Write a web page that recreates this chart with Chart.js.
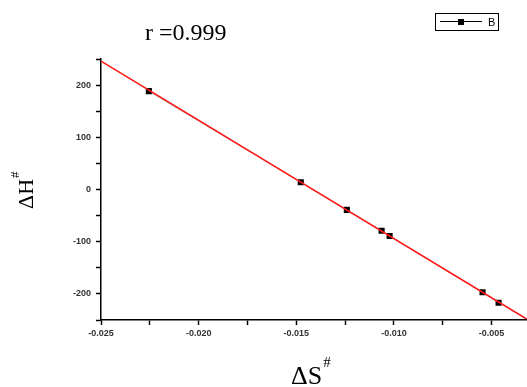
<!DOCTYPE html>
<html>
<head>
<meta charset="utf-8">
<script src="https://cdn.jsdelivr.net/npm/chart.js@4"></script>
<style>
  html, body { margin: 0; padding: 0; background: #fff; overflow: hidden; }
  #wrap { width: 527px; height: 387px; overflow: hidden; }
</style>
</head>
<body>
<div id="wrap"><canvas id="fitChart" width="531" height="387"></canvas></div>
<script>
// data
const dS = [-0.02255, -0.01477, -0.01241, -0.01063, -0.01022, -0.00546, -0.00464];
const dH = [188.5, 14, -39, -79, -89, -197, -217];
const fitX = [-0.025, -0.0032];
const fitY = [246, -248];
const rText = 'r =0.999';
const seriesName = 'B';

const ctx = document.getElementById('fitChart').getContext('2d');

function sup(c, base, supText, x, y, bigFont, smallFont, rise) {
  c.font = bigFont;
  c.fillText(base, x, y);
  const w = c.measureText(base).width;
  c.font = smallFont;
  c.fillText(supText, x + w + 1, y - rise);
}

const annotations = {
  id: 'annotations',
  afterDraw(chart) {
    const c = chart.ctx;
    c.save();
    c.fillStyle = '#000';
    c.textBaseline = 'alphabetic';
    c.textAlign = 'left';

    // correlation text
    c.font = '24px "Liberation Serif", "Times New Roman", serif';
    c.fillText(rText, 145, 40);

    // x axis title
    sup(c, 'ΔS', '#', 291, 384, '26px "Liberation Serif", serif', '15px "Liberation Serif", serif', 17);

    // y axis title (rotated)
    c.translate(33, 209);
    c.rotate(-Math.PI / 2);
    sup(c, 'ΔH', '#', 0, 0, '22px "Liberation Serif", serif', '13px "Liberation Serif", serif', 14);
    c.setTransform(1, 0, 0, 1, 0, 0);

    // legend box
    c.strokeStyle = '#000';
    c.lineWidth = 1;
    c.strokeRect(435.5, 13.5, 63, 17);
    c.beginPath();
    c.moveTo(440, 21.5);
    c.lineTo(482, 21.5);
    c.stroke();
    c.fillRect(458, 19, 6, 6);
    c.font = '11px "Liberation Sans", Arial, sans-serif';
    c.fillText(seriesName, 488, 26);
    c.restore();
  }
};

const isMajor = (v, step) => Math.abs(v / step - Math.round(v / step)) < 1e-6;

new Chart(ctx, {
  type: 'scatter',
  data: {
    datasets: [
      {
        label: 'fit',
        data: fitX.map((x, i) => ({ x: x, y: fitY[i] })),
        showLine: true,
        borderColor: '#ff1a1a',
        borderWidth: 1.6,
        pointRadius: 0,
        order: 1
      },
      {
        label: seriesName,
        data: dS.map((x, i) => ({ x: x, y: dH[i] })),
        showLine: true,
        borderColor: 'rgba(0,0,0,0.6)',
        borderWidth: 0.7,
        backgroundColor: '#000',
        pointStyle: 'rect',
        pointRadius: 4.3,
        pointBorderWidth: 0,
        order: 2
      }
    ]
  },
  options: {
    responsive: false,
    animation: false,
    layout: { padding: { left: 56, top: 59, right: 1, bottom: 37 } },
    plugins: {
      legend: { display: false },
      title: { display: false },
      tooltip: { enabled: false }
    },
    scales: {
      x: {
        type: 'linear',
        min: -0.025,
        max: -0.0032,
        afterFit: s => { s.height = 30; },
        afterBuildTicks: s => { s.ticks = s.ticks.filter(t => isMajor(t.value, 0.0025)); },
        ticks: {
          stepSize: 0.0025,
          includeBounds: false,
          autoSkip: false,
          maxRotation: 0,
          color: '#333',
          font: { family: 'Arial, "Liberation Sans"', size: 9, weight: 'bold' },
          padding: 3,
          callback: v => isMajor(v, 0.005) ? v.toFixed(3) : ''
        },
        grid: {
          drawOnChartArea: false,
          tickLength: 5,
          tickColor: '#000',
          tickWidth: 1.5
        },
        border: { color: '#000', width: 1.5 }
      },
      y: {
        min: -250,
        max: 250,
        afterFit: s => { s.width = 45; },
        ticks: {
          stepSize: 50,
          autoSkip: false,
          color: '#333',
          font: { family: 'Arial, "Liberation Sans"', size: 9, weight: 'bold' },
          padding: 5,
          callback: v => v % 100 === 0 && Math.abs(v) < 250 ? String(v) : ''
        },
        grid: {
          drawOnChartArea: false,
          tickLength: 5,
          tickColor: '#000',
          tickWidth: 1.5
        },
        border: { color: '#000', width: 1.5 }
      }
    }
  },
  plugins: [annotations]
});
</script>
</body>
</html>
